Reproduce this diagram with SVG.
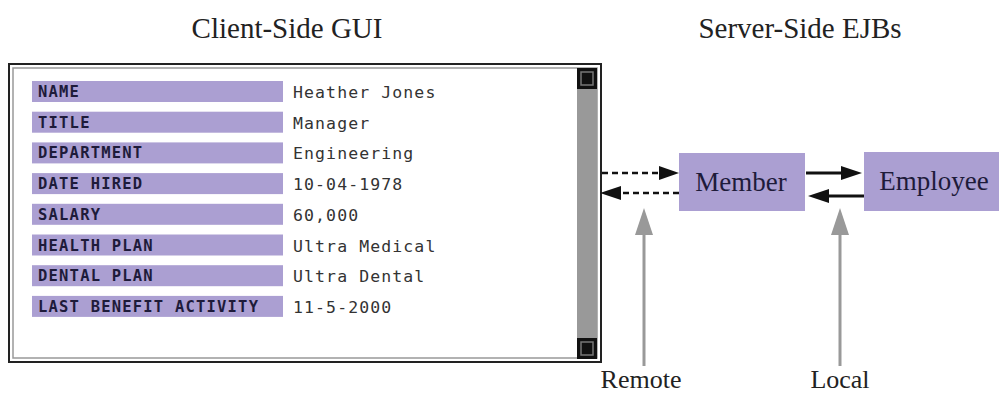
<svg xmlns="http://www.w3.org/2000/svg" width="999" height="395" viewBox="0 0 999 395">
<defs>
<style>
.title{font-family:"Liberation Serif","Times New Roman",serif;font-size:29px;fill:#222;}
.lbl{font-family:"DejaVu Sans Mono",monospace;font-size:15.5px;font-weight:bold;fill:#1e1b3a;letter-spacing:1.2px;}
.val{font-family:"DejaVu Sans Mono",monospace;font-size:16.5px;fill:#333;letter-spacing:1.1px;}
.bar{fill:#ab9fd2;}
.box{fill:#ab9fd2;}
.boxt{font-family:"Liberation Serif","Times New Roman",serif;font-size:27px;fill:#1e1b3a;text-anchor:middle;}
.cap{font-family:"Liberation Serif","Times New Roman",serif;font-size:26px;fill:#222;text-anchor:middle;}
.dash{stroke:#111;stroke-width:2.5;stroke-dasharray:6,4;fill:none;}
.solid{stroke:#111;stroke-width:3;fill:none;}
.gray{stroke:#999;stroke-width:3;fill:none;}
</style>
</defs>
<rect width="999" height="395" fill="#fff"/>
<text class="title" x="287" y="38" text-anchor="middle">Client-Side GUI</text>
<text class="title" x="800" y="38" text-anchor="middle">Server-Side EJBs</text>

<g id="gui">
<rect x="9" y="64" width="592" height="298" fill="#fff" stroke="#222" stroke-width="2"/>
<rect x="13" y="68" width="584" height="290" fill="none" stroke="#999" stroke-width="1.5"/>
<rect x="577" y="68" width="20" height="290" fill="#999"/>
<rect x="577" y="68" width="20" height="21" fill="#111"/>
<rect x="581" y="72" width="12" height="13" fill="#111" stroke="#777" stroke-width="1.5"/>
<rect x="577" y="338" width="20" height="21" fill="#111"/>
<rect x="581" y="342" width="12" height="13" fill="#111" stroke="#777" stroke-width="1.5"/>
<g>
<rect class="bar" x="32" y="81" width="251" height="21"/>
<rect class="bar" x="32" y="111.7" width="251" height="21"/>
<rect class="bar" x="32" y="142.4" width="251" height="21"/>
<rect class="bar" x="32" y="173.1" width="251" height="21"/>
<rect class="bar" x="32" y="203.8" width="251" height="21"/>
<rect class="bar" x="32" y="234.5" width="251" height="21"/>
<rect class="bar" x="32" y="265.2" width="251" height="21"/>
<rect class="bar" x="32" y="295.9" width="251" height="21"/>
</g>
<g>
<text class="lbl" x="38" y="97">NAME</text>
<text class="lbl" x="38" y="127.7">TITLE</text>
<text class="lbl" x="38" y="158.4">DEPARTMENT</text>
<text class="lbl" x="38" y="189.1">DATE HIRED</text>
<text class="lbl" x="38" y="219.8">SALARY</text>
<text class="lbl" x="38" y="250.5">HEALTH PLAN</text>
<text class="lbl" x="38" y="281.2">DENTAL PLAN</text>
<text class="lbl" x="38" y="311.9">LAST BENEFIT ACTIVITY</text>
</g>
<g>
<text class="val" x="293" y="98">Heather Jones</text>
<text class="val" x="293" y="128.7">Manager</text>
<text class="val" x="293" y="159.4">Engineering</text>
<text class="val" x="293" y="190.1">10-04-1978</text>
<text class="val" x="293" y="220.8">60,000</text>
<text class="val" x="293" y="251.5">Ultra Medical</text>
<text class="val" x="293" y="282.2">Ultra Dental</text>
<text class="val" x="293" y="312.9">11-5-2000</text>
</g>
</g>

<g id="member">
<rect class="box" x="679" y="153" width="126" height="58"/>
<text class="boxt" x="741" y="191">Member</text>
</g>
<g id="employee">
<rect class="box" x="864" y="152" width="135" height="59"/>
<text class="boxt" x="934" y="190">Employee</text>
</g>

<g id="connectors">
<line class="dash" x1="602" y1="173" x2="662" y2="173"/>
<polygon points="679,173 659,166 659,180" fill="#111"/>
<line class="dash" x1="679" y1="193" x2="618" y2="193"/>
<polygon points="600,193 621,186 621,200" fill="#111"/>
<line class="solid" x1="806" y1="173" x2="844" y2="173"/>
<polygon points="862,173 841,166 841,180" fill="#111"/>
<line class="solid" x1="864" y1="196" x2="826" y2="196"/>
<polygon points="808,196 829,189 829,203" fill="#111"/>
<line class="gray" x1="644" y1="366" x2="644" y2="232"/>
<polygon points="644,208 635,235 653,235" fill="#999"/>
<line class="gray" x1="840" y1="366" x2="840" y2="232"/>
<polygon points="840,208 831,235 849,235" fill="#999"/>
</g>
<text class="cap" x="641" y="388">Remote</text>
<text class="cap" x="840" y="388">Local</text>
</svg>
